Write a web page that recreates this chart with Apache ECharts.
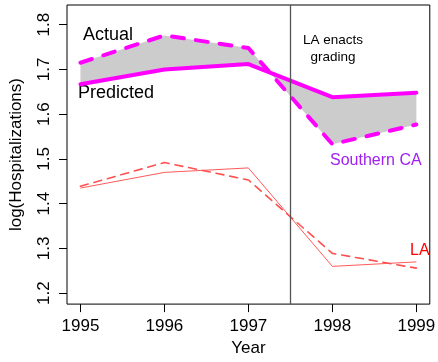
<!DOCTYPE html>
<html>
<head>
<meta charset="utf-8">
<script src="https://cdn.jsdelivr.net/npm/echarts@6/dist/echarts.min.js"></script>
<style>
  html, body { margin: 0; padding: 0; background: #fff; }
  #chart { width: 438px; height: 362px; }
</style>
</head>
<body>
<div id="chart"></div>
<script>
// Years on the x axis
const years = [1995, 1996, 1997, 1998, 1999];
// Southern California: model prediction vs. observed values
const socalPredicted = [1.667, 1.700, 1.712, 1.638, 1.648];
const socalActual = [1.715, 1.776, 1.748, 1.533, 1.577];
// Los Angeles: model prediction vs. observed values
const laPredicted = [1.435, 1.470, 1.480, 1.260, 1.270];
const laActual = [1.439, 1.492, 1.453, 1.289, 1.256];
// Year when LA started grading
const gradingYear = 1997.5;
// Tick labels
const xTicks = [1995, 1996, 1997, 1998, 1999];
const yTicks = [1.2, 1.3, 1.4, 1.5, 1.6, 1.7, 1.8];

const FONT = 'Liberation Sans, Arial, sans-serif';
const pairs = (xs, ys) => xs.map((x, i) => [x, ys[i]]);

const chart = echarts.init(document.getElementById('chart'), null, { renderer: 'canvas' });

const option = {
  animation: false,
  backgroundColor: '#ffffff',
  textStyle: { fontFamily: FONT },
  grid: {
    left: 60, top: 5, right: 6, bottom: 54,
    show: true, borderColor: '#000', borderWidth: 1, backgroundColor: 'transparent'
  },
  xAxis: {
    type: 'value', min: 1994.84, max: 1999.16,
    name: 'Year', nameLocation: 'middle', nameGap: 34,
    nameTextStyle: { fontSize: 17, color: '#000', fontFamily: FONT },
    axisLine: { show: false },
    splitLine: { show: false },
    axisTick: { show: true, length: 8, lineStyle: { color: '#000', width: 1 }, customValues: xTicks },
    axisLabel: { customValues: xTicks, fontSize: 17, color: '#000', margin: 14, fontFamily: FONT,
                 formatter: v => String(Math.round(v)) }
  },
  yAxis: {
    type: 'value', min: 1.1757, max: 1.844,
    name: 'log(Hospitalizations)', nameLocation: 'middle', nameGap: 42,
    nameTextStyle: { fontSize: 17, color: '#000', fontFamily: FONT },
    axisLine: { show: false },
    splitLine: { show: false },
    axisTick: { show: true, length: 8, lineStyle: { color: '#000', width: 1 }, customValues: yTicks },
    axisLabel: { customValues: yTicks, fontSize: 17, color: '#000', margin: 14, rotate: 90, fontFamily: FONT,
                 formatter: v => v.toFixed(1) }
  },
  series: [
    {
      // shaded gap between observed and predicted Southern CA values
      type: 'custom',
      silent: true,
      z: 1,
      data: [0],
      renderItem: function (params, api) {
        const pts = [];
        years.forEach((y, i) => pts.push(api.coord([y, socalActual[i]])));
        for (let i = years.length - 1; i >= 0; i--) pts.push(api.coord([years[i], socalPredicted[i]]));
        return { type: 'polygon', shape: { points: pts }, style: { fill: '#cccccc', stroke: null } };
      }
    },
    {
      type: 'line', data: pairs(years, socalPredicted), showSymbol: false, z: 3,
      lineStyle: { color: '#ff00ff', width: 4, cap: 'round', join: 'round' }
    },
    {
      type: 'line', data: pairs(years, socalActual), showSymbol: false, z: 3,
      lineStyle: { color: '#ff00ff', width: 4, type: [12, 12], cap: 'round', join: 'round' }
    },
    {
      type: 'line', data: pairs(years, laPredicted), showSymbol: false, z: 3,
      lineStyle: { color: '#ff5a5a', width: 1 }
    },
    {
      type: 'line', data: pairs(years, laActual), showSymbol: false, z: 3,
      lineStyle: { color: '#ff5050', width: 1.6, type: [8, 6], cap: 'round' },
      markLine: {
        silent: true, symbol: 'none', label: { show: false },
        lineStyle: { color: '#555', width: 1.3, type: 'solid' },
        data: [{ xAxis: gradingYear }]
      }
    }
  ],
  graphic: [
    { type: 'text', left: 83, top: 26, style: { text: 'Actual', font: '18px ' + FONT, fill: '#000' } },
    { type: 'text', left: 78, top: 84, style: { text: 'Predicted', font: '18px ' + FONT, fill: '#000' } },
    { type: 'text', style: { x: 333, y: 40, text: 'LA enacts', font: '13.5px ' + FONT, fill: '#000',
      align: 'center', verticalAlign: 'middle' } },
    { type: 'text', style: { x: 333, y: 57, text: 'grading', font: '13.5px ' + FONT, fill: '#000',
      align: 'center', verticalAlign: 'middle' } },
    { type: 'text', left: 330, top: 153, style: { text: 'Southern CA', font: '16px ' + FONT, fill: '#a020f0' } },
    { type: 'text', left: 410, top: 243, style: { text: 'LA', font: '16px ' + FONT, fill: '#ff0000' } }
  ]
};

chart.setOption(option);
</script>
</body>
</html>
